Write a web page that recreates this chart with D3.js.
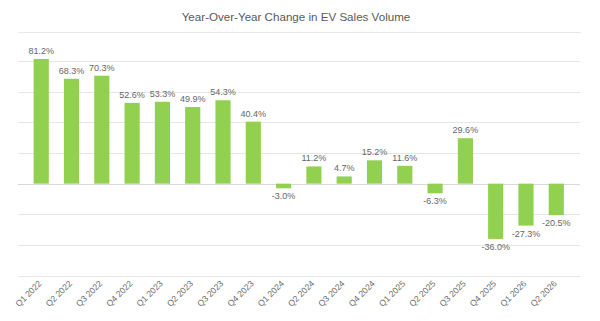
<!DOCTYPE html>
<html>
<head>
<meta charset="utf-8">
<script src="https://cdn.jsdelivr.net/npm/d3@7"></script>
<style>
  body { margin: 0; background: #fff; }
  text { font-family: "Liberation Sans", Arial, sans-serif; }
</style>
</head>
<body>
<svg></svg>
<script>
const quarters = ['Q1 2022', 'Q2 2022', 'Q3 2022', 'Q4 2022', 'Q1 2023', 'Q2 2023', 'Q3 2023', 'Q4 2023',
    'Q1 2024', 'Q2 2024', 'Q3 2024', 'Q4 2024', 'Q1 2025', 'Q2 2025', 'Q3 2025', 'Q4 2025', 'Q1 2026', 'Q2 2026'];
const yoyChange = [81.2, 68.3, 70.3, 52.6, 53.3, 49.9, 54.3, 40.4,
    -3.0, 11.2, 4.7, 15.2, 11.6, -6.3, 29.6, -36.0, -27.3, -20.5];
const gridValues = [-60, -40, -20, 0, 20, 40, 60, 80];

const width = 600, height = 321;

const svg = d3.select('svg')
    .attr('width', width)
    .attr('height', height);

svg.append('text')
    .attr('x', 296)
    .attr('y', 21)
    .attr('text-anchor', 'middle')
    .attr('font-size', 11.6)
    .attr('fill', '#595959')
    .text('Year-Over-Year Change in EV Sales Volume');

svg.append('line')
    .attr('x1', 18).attr('x2', 581)
    .attr('y1', 32.5).attr('y2', 32.5)
    .attr('stroke', '#e8e8e8');

const x = d3.scaleBand()
    .domain(quarters)
    .range([18.5, 579])
    .padding(0.5);

const y = d3.scaleLinear()
    .domain([-60, 80])
    .range([275.8, 60.8]);

// gridlines
svg.append('g')
    .selectAll('line')
    .data(gridValues)
    .join('line')
    .attr('x1', 18)
    .attr('x2', 580)
    .attr('y1', d => Math.round(y(d)) + 0.5)
    .attr('y2', d => Math.round(y(d)) + 0.5)
    .attr('stroke', d => d === 0 ? '#d9d9d9' : '#e6e6e6');

// bars
svg.append('g')
    .selectAll('rect')
    .data(yoyChange)
    .join('rect')
    .attr('x', (d, i) => x(quarters[i]))
    .attr('width', x.bandwidth())
    .attr('y', d => y(Math.max(0, d)))
    .attr('height', d => Math.abs(y(d) - y(0)))
    .attr('fill', '#92d050');

// value labels
svg.append('g')
    .selectAll('text')
    .data(yoyChange)
    .join('text')
    .attr('x', (d, i) => x(quarters[i]) + x.bandwidth() / 2)
    .attr('y', d => d >= 0 ? y(d) - 5 : y(d) + 11)
    .attr('text-anchor', 'middle')
    .attr('font-size', 9)
    .attr('fill', '#666')
    .text(d => d.toFixed(1) + '%');

// x axis labels
const xAxis = svg.append('g')
    .attr('transform', `translate(0, 278)`)
    .call(d3.axisBottom(x).tickSize(0).tickPadding(0));
xAxis.select('.domain').remove();
xAxis.selectAll('text')
    .attr('font-size', 8.6)
    .attr('fill', '#6a6a6a')
    .attr('text-anchor', 'end')
    .attr('dy', 0)
    .attr('transform', 'translate(1, 6) rotate(-45)');
</script>
</body>
</html>
